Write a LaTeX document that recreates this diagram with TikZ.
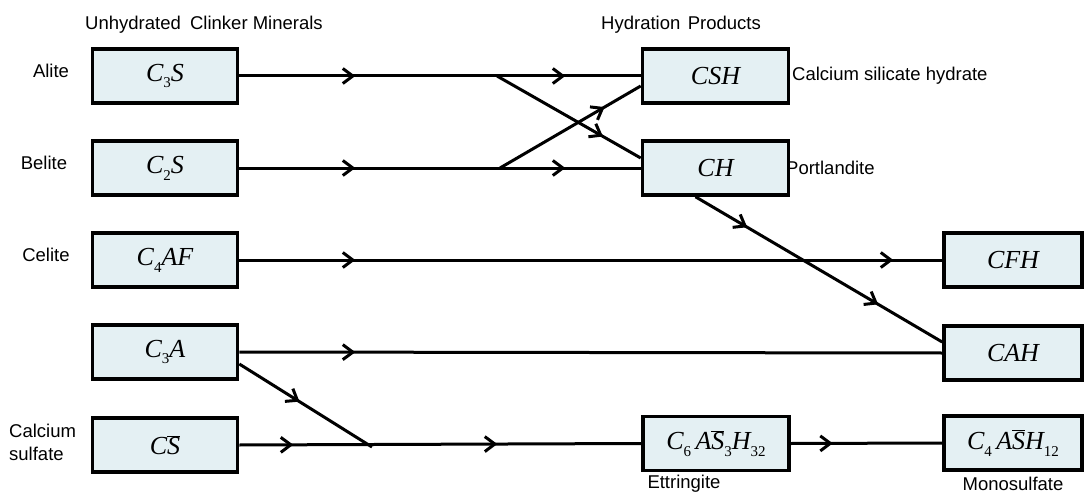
\documentclass[tikz,border=0pt]{standalone}
\usepackage{fontspec}
\setmainfont{Liberation Sans}
\newfontfamily\tnr{Liberation Serif}
\usetikzlibrary{arrows.meta,decorations.markings,calc}

\definecolor{boxfill}{RGB}{228,240,243}

% chemical notation: italic letters, small upright subscripts, barred S
\newcommand\mi[1]{{\tnr\itshape #1}}
\newcommand\sbs[1]{\raisebox{-0.5ex}{\fontsize{15}{15}\selectfont\tnr #1}}
\newcommand\bS{$\overline{\hbox{\mi{S}}}$}

\tikzset{
  box/.style={draw=black, line width=3.6pt, fill=boxfill, minimum height=54pt,
              inner sep=0pt, font=\fontsize{26}{28}\selectfont},
  leftbox/.style={box, minimum width=145pt},
  midbox/.style={box, minimum width=146pt},
  rightbox/.style={box, minimum width=138pt},
  lbl/.style={font=\fontsize{18.5}{22}\selectfont, inner sep=0pt},
  flow/.style={line width=3pt},
  tip/.style={postaction={decorate, decoration={markings,
      mark=at position #1 with {\arrow{Straight Barb[length=10pt,width=15pt,line width=3pt]}}}}},
}

\begin{document}
\begin{tikzpicture}[x=1pt,y=-1pt]
\useasboundingbox (0,0) rectangle (1088,495);

% column headings
\node[lbl] (hleft) at (204,25) {Unhydrated\hspace{0.5em}Clinker Minerals};
\node[lbl] (hright) at (681,25) {Hydration\hspace{0.4em}Products};

% clinker minerals
\node[leftbox] (c3s)  at (165,76)  {\mi{C}\sbs{3}\mi{S}\hspace{18pt}};
\node[leftbox] (c2s)  at (165,168) {\mi{C}\sbs{2}\mi{S}\hspace{18pt}};
\node[leftbox] (c4af) at (165,260) {\mi{C}\sbs{4}\mi{AF}\hspace{18pt}};
\node[leftbox] (c3a)  at (165,352) {\mi{C}\sbs{3}\mi{A}\hspace{18pt}};
\node[leftbox] (cs)   at (165,445) {\mi{C}\bS\hspace{18pt}};

\node[lbl] (alite)  at (51,71)  {Alite};
\node[lbl] (belite) at (44,163) {Belite};
\node[lbl] (celite) at (46,255) {Celite};
\node[lbl, align=left, anchor=west, font=\fontsize{18.5}{23}\selectfont] (csulf) at (9,442) {Calcium\\sulfate};

% hydration products
\node[midbox] (csh) at (715.5,76)  {\mi{CSH}};
\node[midbox] (ch)  at (715.5,168) {\mi{CH}};
\node[midbox] (ett) at (716,443.5) {\mi{C}\sbs{6}\,\mi{A}\bS\sbs{3}\mi{H}\sbs{32}};
\node[rightbox] (cfh)  at (1013,260) {\mi{CFH}};
\node[rightbox] (cah)  at (1013,353) {\mi{CAH}};
\node[rightbox] (mono) at (1013,443) {\mi{C}\sbs{4}\,\mi{A}\bS\mi{H}\sbs{12}};

\node[lbl, anchor=west] (lcsh) at (792,76)  {Calcium silicate hydrate};
\node[lbl, anchor=west] (lch)  at (786,168) {Portlandite};
\node[lbl] (lett)  at (684,484) {Ettringite};
\node[lbl] (lmono) at (1013,484) {Monosulfate};

% branch points
\coordinate (b1) at (497,76);
\coordinate (b2) at (500,168);
\coordinate (j)  at (372,447);

% reaction paths
\draw[flow, tip=116pt, tip=326pt] (c3s.east) -- (csh.west);
\draw[flow, tip=122pt] (b1) -- ([yshift=10pt]ch.west);
\draw[flow, tip=116pt, tip=326pt] (c2s.east) -- (ch.west);
\draw[flow, tip=121pt] (b2) -- ([yshift=-10pt]csh.west);
\draw[flow, tip=116pt, tip=654pt] (c4af.east) -- (cfh.west);
\draw[flow, tip=60pt, tip=212pt] ([xshift=-20pt]ch.south) -- ([yshift=11pt]cah.west);
\draw[flow, tip=116pt] (c3a.east) -- (cah.west);
\draw[flow, tip=71pt] ([yshift=-12pt]c3a.east) -- (j);
\draw[flow, tip=54pt, tip=258pt] (cs.east) -- (ett.west);
\draw[flow, tip=42pt] (ett.east) -- (mono.west);
\end{tikzpicture}
\end{document}
